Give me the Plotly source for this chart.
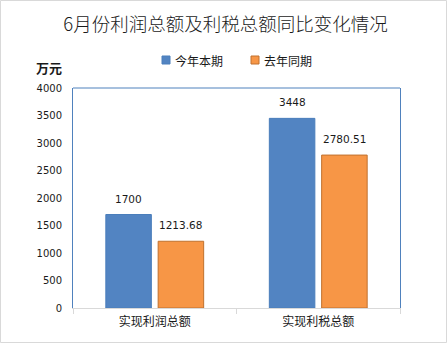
import plotly.graph_objects as go

# Data
categories = ["实现利润总额", "实现利税总额"]
this_period = [1700, 3448]
last_year = [1213.68, 2780.51]
this_labels = ["1700", "3448"]
last_labels = ["1213.68", "2780.51"]
series_names = ["今年本期", "去年同期"]

W, H = 448, 344
ML, MR, MT, MB = 73, 48, 88, 36
PW, PH = W - ML - MR, H - MT - MB

CJK = "Noto Sans CJK SC"
NUM = "DejaVu Sans, Noto Sans CJK SC"
BLUE = "#5284C2"
ORANGE = "#F79646"
AXIS_BLUE = "#4F81BD"
TEXT = "#1a1a1a"

BARGAP = 0.36
GROUPGAP = 0.13


def px_to_paper_x(px):
    return (px - ML) / PW


def px_to_paper_y(py):
    return (H - MB - py) / PH


fig = go.Figure()
fig.add_trace(go.Bar(
    x=categories, y=this_period, name=series_names[0],
    marker=dict(color=BLUE, line=dict(color="#4A7EBB", width=1)),
))
fig.add_trace(go.Bar(
    x=categories, y=last_year, name=series_names[1],
    marker=dict(color=ORANGE, line=dict(color="#C0712E", width=1)),
))

# value labels above each bar, placed at the grouped bar centres
slot = (1 - BARGAP) / 2
for series, labels, side in ((this_period, this_labels, -1), (last_year, last_labels, 1)):
    for i, (v, lab) in enumerate(zip(series, labels)):
        fig.add_annotation(x=i + side * slot / 2, y=v, xref="x", yref="y",
                           text=lab, showarrow=False, yanchor="bottom", yshift=8,
                           font=dict(family=NUM, size=10.5, color=TEXT))

fig.update_layout(
    width=W, height=H,
    margin=dict(l=ML, r=MR, t=MT, b=MB, pad=0),
    paper_bgcolor="white", plot_bgcolor="white",
    barmode="group", bargap=BARGAP, bargroupgap=GROUPGAP,
    showlegend=False,
    title=dict(text="6月份利润总额及利税总额同比变化情况",
               x=225.5 / W, y=1 - 25 / H, xanchor="center", yanchor="middle",
               font=dict(family=CJK, size=18.5, color=TEXT, weight=300)),
    xaxis=dict(showline=True, linecolor="#D9D9D9", linewidth=1,
               ticks="outside", tickson="boundaries", ticklen=5, tickcolor="#D9D9D9",
               ticklabelstandoff=3,
               tickfont=dict(family=CJK, size=12, color=TEXT),
               showgrid=False),
    yaxis=dict(range=[0, 4000], dtick=500, showline=True, linecolor=AXIS_BLUE,
               linewidth=1, mirror=True, showgrid=False, zeroline=False,
               ticks="", ticklabelstandoff=8,
               tickfont=dict(family=NUM, size=10, color=TEXT)),
    font=dict(family=NUM),
)

# top edge of the plot frame
fig.add_shape(type="line", xref="paper", yref="paper", x0=0, x1=1, y0=1, y1=1,
              line=dict(color=AXIS_BLUE, width=1))

# outer chart border
fig.add_shape(type="rect", xref="paper", yref="paper",
              x0=px_to_paper_x(0.5), x1=px_to_paper_x(446.5),
              y0=px_to_paper_y(342.5), y1=px_to_paper_y(0.5),
              line=dict(color="#D9D9D9", width=1), layer="below")

# legend: colour key squares with their series names
legend_items = [(series_names[0], BLUE, "#4A7EBB", 162), (series_names[1], ORANGE, "#C0712E", 251)]
for name, fill, edge, sx in legend_items:
    fig.add_shape(type="rect", xref="paper", yref="paper",
                  x0=px_to_paper_x(sx), x1=px_to_paper_x(sx + 8),
                  y0=px_to_paper_y(64), y1=px_to_paper_y(56),
                  fillcolor=fill, line=dict(color=edge, width=1))
    fig.add_annotation(text=name, xref="paper", yref="paper",
                       x=px_to_paper_x(sx + 11), y=px_to_paper_y(60),
                       xanchor="left", yanchor="middle", showarrow=False,
                       font=dict(family=CJK, size=12, color=TEXT))

# unit label
fig.add_annotation(text="<b>万元</b>", xref="paper", yref="paper",
                   x=px_to_paper_x(49), y=px_to_paper_y(67),
                   xanchor="center", yanchor="middle", showarrow=False,
                   font=dict(family=CJK, size=13, color=TEXT))

fig.write_html("out.html")
